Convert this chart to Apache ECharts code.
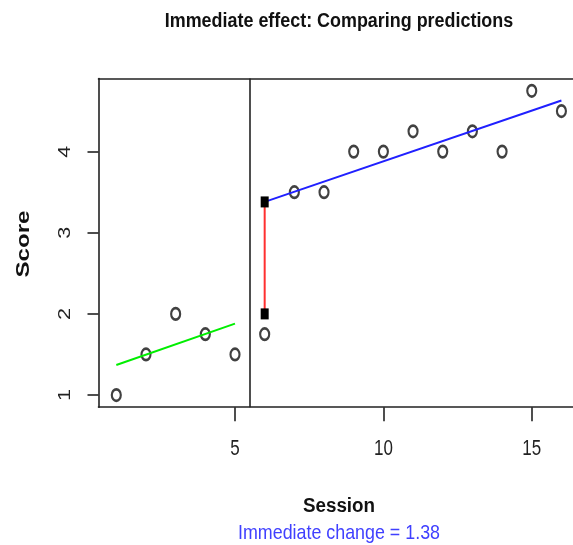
<!DOCTYPE html>
<html>
<head>
<meta charset="utf-8">
<script src="https://cdn.jsdelivr.net/npm/echarts@6/dist/echarts.min.js"></script>
<style>
html,body{margin:0;padding:0;background:#fff;}
#chart{width:573px;height:545px;}
</style>
</head>
<body>
<div id="chart"></div>
<script>
// Data
const sessions = [1,2,3,4,5,6,7,8,9,10,11,12,13,14,15,16];
const scores   = [1,1.5,2,1.75,1.5,1.75,3.5,3.5,4,4,4.25,4,4.25,4,4.75,4.5];
const preFitX  = [1,5];
const preFitY  = [1.37,1.88];
const postFitX = [6,16];
const postFitY = [3.38,4.63];
const changeX  = [6,6];
const changeY  = [2,3.38];
const phaseLineX = 5.5;
const xTicks = [5,10,15];
const yTicks = [1,2,3,4];
const titleText = 'Immediate effect: Comparing predictions';
const xName = 'Session';
const yName = 'Score';
const subText = 'Immediate change = 1.38';

const FONT = "'Liberation Sans', Arial, sans-serif";
const zip = (a,b) => a.map((v,i)=>[v,b[i]]);
const AX = '#222';
const X_MIN = 0.4, X_MAX = 16.39, Y_MIN = 0.85, Y_MAX = 4.9;

const chart = echarts.init(document.getElementById('chart'), null, {renderer:'canvas'});
const baseGraphic = [
  {type:'text', x:339, y:21, scaleX:0.943, scaleY:1.1, style:{text:titleText, font:"bold 19px "+FONT, fill:'#111', align:'center', verticalAlign:'middle'}},
  {type:'text', x:339, y:506, scaleX:0.99, scaleY:1.1, style:{text:xName, font:"bold 19px "+FONT, fill:'#111', align:'center', verticalAlign:'middle'}},
  {type:'text', x:339, y:533, scaleX:0.94, scaleY:1.1, style:{text:subText, font:"19px "+FONT, fill:'#4040ff', align:'center', verticalAlign:'middle'}},
  {type:'text', x:24, y:244, rotation:Math.PI/2, scaleX:1.27, style:{text:yName, font:"bold 19px "+FONT, fill:'#111', align:'center', verticalAlign:'middle'}}
];
chart.setOption({
  animation:false,
  backgroundColor:'#fff',
  grid:{left:98.5, top:78.6, right:0, bottom:137.8, show:false},
  xAxis:[{
    type:'value', min:X_MIN, max:X_MAX, position:'bottom',
    splitLine:{show:false},
    axisLine:{show:true, onZero:false, lineStyle:{color:AX, width:1.6}},
    axisTick:{show:true, inside:false, length:14, customValues:xTicks, lineStyle:{color:AX, width:1.6}},
    axisLabel:{show:false}
  },{
    type:'value', min:X_MIN, max:X_MAX, position:'top',
    splitLine:{show:false},
    axisLine:{show:true, onZero:false, lineStyle:{color:AX, width:1.6}},
    axisTick:{show:false}, axisLabel:{show:false}
  }],
  yAxis:{
    type:'value', min:Y_MIN, max:Y_MAX,
    splitLine:{show:false},
    axisLine:{show:true, onZero:false, lineStyle:{color:AX, width:1.6}},
    axisTick:{show:true, length:11, customValues:yTicks, lineStyle:{color:AX, width:1.6}},
    axisLabel:{show:false}
  },
  graphic:baseGraphic,
  series:[
    {type:'scatter', data:zip(sessions,scores), symbol:'circle', symbolSize:[9,11.5],
     itemStyle:{color:'#fff', borderColor:'#111', borderWidth:2.4}, z:2,
     markLine:{silent:true, symbol:'none', label:{show:false}, lineStyle:{color:AX, width:1.6, type:'solid'}, data:[{xAxis:phaseLineX}]}},
    {type:'line', data:zip(preFitX,preFitY), showSymbol:false, lineStyle:{color:'#00ee00', width:2}, z:3},
    {type:'line', data:zip(postFitX,postFitY), showSymbol:false, lineStyle:{color:'#2020ff', width:2}, z:3},
    {type:'line', data:zip(changeX,changeY), showSymbol:true, symbol:'rect', symbolSize:[8,11],
     itemStyle:{color:'#000'}, lineStyle:{color:'#ff3030', width:2}, z:4}
  ]
});

// Tick labels placed through the axes' own scales (stretched text like the reference)
const tickLabels = [];
xTicks.forEach(v => {
  const p = chart.convertToPixel({gridIndex:0}, [v, Y_MIN]);
  tickLabels.push({type:'text', x:p[0], y:p[1] + 42, scaleY:1.3,
    style:{text:String(v), font:"17px "+FONT, fill:'#222', align:'center', verticalAlign:'middle'}});
});
yTicks.forEach(v => {
  const p = chart.convertToPixel({gridIndex:0}, [X_MIN, v]);
  tickLabels.push({type:'text', x:p[0] - 33.5, y:p[1], rotation:Math.PI/2, scaleX:1.27,
    style:{text:String(v), font:"17px "+FONT, fill:'#222', align:'center', verticalAlign:'middle'}});
});
chart.setOption({graphic: baseGraphic.concat(tickLabels)});
</script>
</body>
</html>
